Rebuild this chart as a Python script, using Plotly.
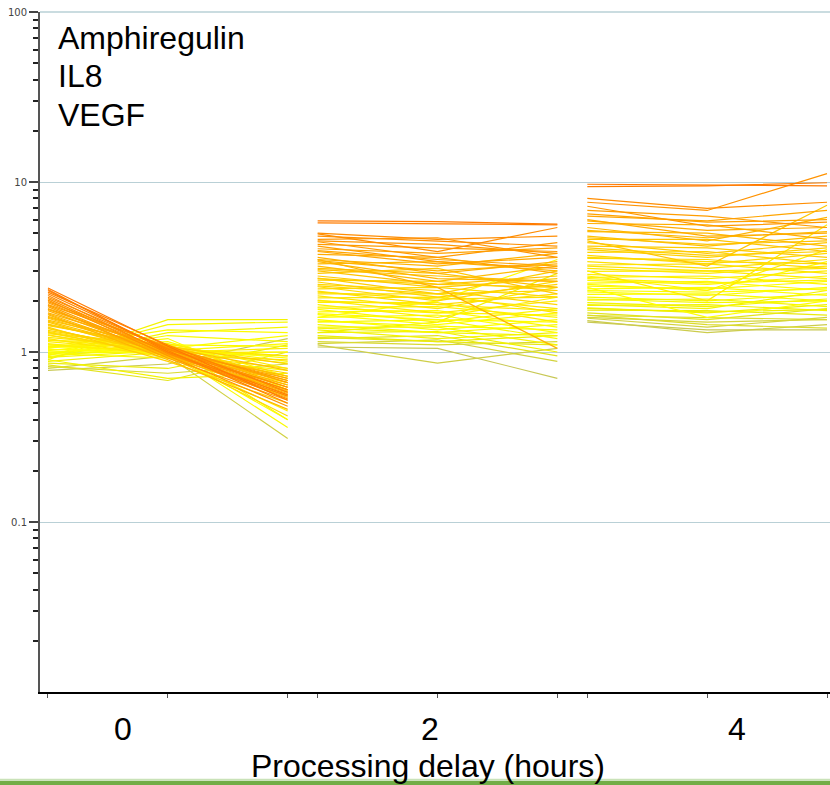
import plotly.graph_objects as go
from plotly.colors import sample_colorscale
import numpy as np

genes = ["Amphiregulin", "IL8", "VEGF"]
delay_labels = ["0", "2", "4"]
axis_title = "Processing delay (hours)"

# ---- delay 0 h : one value per sample for each gene (relative expression) ----
d0_amph = [2.38, 2.30, 2.25, 2.15, 2.10, 2.02, 1.95, 1.90, 1.85, 1.80, 1.75, 1.70, 1.66, 1.62,
           1.58, 1.54, 1.50, 1.46, 1.43, 1.40, 1.37, 1.34, 1.31, 1.28, 1.25, 1.22, 1.20, 1.17,
           1.15, 1.12, 1.10, 1.08, 1.06, 1.04, 1.02, 1.00, 0.98, 0.96, 0.94, 0.92, 0.90, 0.88,
           0.86, 0.84, 0.82, 0.80, 0.78, 0.95, 1.05, 0.90, 1.00, 1.30, 0.97,
           2.33, 2.20, 2.06, 1.98, 1.88, 1.78, 1.68, 1.60, 1.52, 1.45, 1.38, 1.32, 1.26, 1.18,
           1.10, 1.03, 0.99, 0.93]
d0_il8 = [1.08, 1.02, 1.10, 0.98, 1.05, 0.95, 1.00, 1.08, 0.92, 1.02, 0.96, 1.04, 0.90, 1.00,
          0.97, 1.06, 0.94, 1.00, 1.08, 0.88, 0.98, 1.03, 0.95, 1.10, 0.99, 1.05, 0.93, 1.12,
          1.00, 0.96, 1.08, 1.02, 1.15, 0.97, 1.20, 1.05, 0.92, 1.25, 1.10, 1.30, 1.55, 1.00,
          0.80, 0.68, 0.75, 0.95, 0.85, 1.45, 1.35, 0.70, 1.00, 0.95, 1.02,
          1.00, 1.04, 0.99, 1.06, 0.97, 1.01, 0.95, 1.03, 0.98, 1.04, 0.96, 1.01, 0.97, 1.03,
          0.99, 1.06, 1.10, 1.02]
d0_vegf = [0.52, 0.50, 0.58, 0.55, 0.62, 0.48, 0.60, 0.66, 0.52, 0.70, 0.57, 0.64, 0.46, 0.72,
           0.60, 0.78, 0.55, 0.68, 0.85, 0.50, 0.75, 0.62, 0.90, 0.70, 0.58, 0.95, 0.66, 0.80,
           1.05, 0.45, 0.88, 1.12, 0.72, 1.00, 0.60, 1.25, 0.78, 1.15, 0.40, 1.40, 1.55, 0.95,
           1.10, 1.00, 0.85, 0.31, 1.20, 1.50, 1.30, 0.75, 0.40, 0.42, 0.36,
           0.56, 0.60, 0.53, 0.68, 0.58, 0.62, 0.54, 0.66, 0.59, 0.72, 0.64, 0.56, 0.80, 0.68,
           1.00, 0.92, 1.08, 0.86]

# ---- delay 2 h ----
d2_amph = [5.90, 5.75, 4.95, 4.80, 4.60, 4.45, 4.30, 4.20, 4.05, 3.90, 3.75, 3.60, 3.50, 3.40,
           3.30, 3.20, 3.10, 3.00, 2.90, 2.80, 2.72, 2.65, 2.58, 2.50, 2.42, 2.35, 2.28, 2.20,
           2.14, 2.08, 2.02, 1.96, 1.90, 1.84, 1.78, 1.72, 1.66, 1.60, 1.55, 1.50, 1.45, 1.40,
           1.35, 1.30, 1.25, 1.20, 1.15, 1.10, 1.07, 1.12, 3.50, 1.30, 1.60,
           4.50, 3.95, 3.45, 3.05, 2.70, 2.45, 2.25, 2.00, 1.82, 1.68, 1.52, 1.38, 1.22, 5.00]
d2_il8 = [5.85, 5.70, 3.90, 4.50, 4.70, 3.60, 4.10, 3.40, 3.80, 3.30, 3.60, 2.90, 3.20, 2.70,
          3.40, 2.60, 2.90, 2.50, 3.10, 2.40, 2.20, 2.60, 2.10, 2.30, 2.00, 2.40, 1.90, 2.20,
          1.80, 2.10, 1.70, 1.95, 1.60, 1.85, 1.50, 1.75, 1.45, 1.65, 1.35, 1.55, 1.30, 1.40,
          1.20, 1.32, 1.15, 1.25, 1.10, 0.86, 1.05, 1.18, 2.40, 1.50, 2.00,
          4.30, 3.50, 3.00, 2.80, 2.50, 2.20, 2.05, 1.90, 1.70, 1.55, 1.42, 1.30, 1.15, 4.60]
d2_vegf = [5.65, 5.60, 5.40, 4.20, 3.60, 4.40, 3.90, 3.10, 4.10, 3.60, 2.90, 3.40, 3.80, 2.60,
           3.00, 3.20, 2.40, 2.80, 2.20, 2.70, 3.00, 2.30, 2.50, 1.90, 2.60, 2.10, 2.20, 1.70,
           2.40, 1.80, 2.00, 1.50, 2.10, 1.60, 1.80, 1.40, 1.70, 1.30, 1.55, 1.20, 1.45, 1.10,
           1.30, 1.00, 1.25, 0.95, 1.15, 1.05, 0.70, 0.88, 1.05, 2.90, 3.50,
           3.80, 3.20, 3.30, 2.60, 2.40, 2.30, 2.10, 1.75, 1.65, 1.50, 1.35, 1.25, 1.10, 4.80]

# ---- delay 4 h ----
d4_amph = [9.70, 9.40, 8.00, 7.60, 7.20, 6.80, 6.30, 6.00, 5.70, 5.40, 5.10, 4.80, 4.60, 4.40,
           4.20, 4.00, 3.85, 3.70, 3.55, 3.40, 3.25, 3.10, 2.98, 2.86, 2.75, 2.64, 2.54, 2.44,
           2.35, 2.26, 2.18, 2.10, 2.02, 1.95, 1.88, 1.82, 1.76, 1.70, 1.64, 1.58, 1.53, 1.50,
           2.40, 3.00, 4.50, 2.80, 1.65,
           6.50, 5.90, 5.20, 4.70, 4.10, 3.60, 3.20, 2.70, 2.30, 2.05, 1.80, 1.60, 1.90, 2.50]
d4_il8 = [9.60, 9.50, 7.00, 6.80, 5.50, 6.30, 5.90, 4.80, 5.60, 4.50, 5.00, 4.20, 4.60, 3.80,
          4.10, 3.60, 3.90, 3.30, 3.50, 3.10, 3.30, 2.90, 3.00, 2.70, 2.80, 2.50, 2.60, 2.35,
          2.40, 2.15, 2.20, 2.00, 2.05, 1.85, 1.90, 1.70, 1.75, 1.55, 1.60, 1.40, 1.30, 1.35,
          1.60, 2.00, 3.20, 2.30, 1.45,
          5.80, 5.20, 4.70, 4.30, 3.70, 3.40, 3.00, 2.55, 2.25, 1.95, 1.72, 1.50, 1.80, 2.30]
d4_vegf = [9.50, 9.90, 7.60, 11.2, 5.80, 5.40, 6.80, 5.00, 4.60, 6.20, 4.20, 4.80, 3.90, 4.40,
           3.60, 4.10, 3.30, 3.80, 3.10, 3.50, 2.90, 3.20, 2.70, 3.00, 2.50, 2.80, 2.30, 2.60,
           2.15, 2.40, 2.00, 2.20, 1.85, 2.05, 1.75, 1.90, 1.65, 1.80, 1.55, 1.60, 1.45, 1.35,
           2.00, 5.60, 7.30, 4.00, 1.38,
           6.00, 5.40, 5.10, 4.50, 3.90, 3.30, 3.10, 2.65, 2.35, 2.00, 1.78, 1.55, 2.30, 3.40]

groups = [
    (d0_amph, d0_il8, d0_vegf),
    (d2_amph, d2_il8, d2_vegf),
    (d4_amph, d4_il8, d4_vegf),
]

colorscale = [[0.0, "#c8c855"], [0.1, "#f0f000"], [0.25, "#ffff00"],
              [0.6, "#ffc400"], [1.0, "#ff7a00"]]

group_step = 2.25  # each delay block spans 3 gene positions plus a gap
fig = go.Figure()
for g, (a, b, c) in enumerate(groups):
    xs = [g * group_step + k for k in range(len(genes))]
    vals = np.array([a, b, c]).T
    score = np.log10(vals[:, 0])  # colour follows the first gene (Amphiregulin)
    t = (score - score.min()) / (score.max() - score.min())
    cols = sample_colorscale(colorscale, list(t))
    order = np.argsort(t)
    for i in order:
        fig.add_trace(go.Scatter(
            x=xs, y=list(vals[i]), mode="lines",
            line=dict(color=cols[i], width=1.2),
            hoverinfo="skip", showlegend=False,
        ))

major = [0.1, 1, 10, 100]
minor_vals = [k * 10.0 ** e for e in range(-2, 2) for k in range(2, 10)]
xticks = [g * group_step + k for g in range(3) for k in range(3)]

fig.update_layout(
    width=830, height=785,
    margin=dict(l=40, r=0, t=12, b=93),
    plot_bgcolor="white", paper_bgcolor="white",
    font=dict(family="Liberation Sans, Arial, sans-serif", color="black"),
    showlegend=False,
)
fig.update_yaxes(
    type="log", range=[-2, 2],
    tickvals=major, ticktext=["0.1", "1", "10", "100"],
    tickfont=dict(family="DejaVu Sans", size=10, color="#444"),
    ticks="outside", ticklen=9, tickcolor="#444", tickwidth=1.5,
    showgrid=True, gridcolor="#b9d0d6", gridwidth=1,
    showline=True, linecolor="#555", linewidth=2,
    zeroline=False,
    minor=dict(tickvals=minor_vals, ticks="outside", ticklen=5,
               tickcolor="#222", tickwidth=1.5, showgrid=False),
)
fig.update_xaxes(
    range=[-0.0667, 6.525],
    tickvals=xticks, ticks="outside", ticklen=4, tickcolor="#555", tickwidth=1,
    showticklabels=False, showgrid=False, zeroline=False,
    showline=True, linecolor="black", linewidth=1.5,
)

# grid line at the top (100) which sits on the plot edge
fig.add_shape(type="line", xref="paper", yref="paper", x0=0, x1=1, y0=1, y1=1,
              line=dict(color="#b9d0d6", width=1.5), layer="below")

# gene names legend text (upper left)
for i, name in enumerate(genes):
    fig.add_annotation(text=name, xref="paper", yref="paper",
                       x=0.0205, y=0.962 - i * 0.0565, xanchor="left", yanchor="middle",
                       showarrow=False, font=dict(size=32, color="black"))

# delay labels under each block
for xp, lab in zip([0.105, 0.494, 0.882], delay_labels):
    fig.add_annotation(text=lab, xref="paper", yref="paper", x=xp, y=-0.054,
                       xanchor="center", yanchor="middle", showarrow=False,
                       font=dict(size=32, color="black"))

fig.add_annotation(text=axis_title, xref="paper", yref="paper", x=0.491, y=-0.109,
                   xanchor="center", yanchor="middle", showarrow=False,
                   font=dict(size=32, color="black"))

# green rule at the very bottom of the slide
fig.add_shape(type="rect", xref="paper", yref="paper", x0=-0.06, x1=1.0,
              y0=-0.1375, y1=-0.1305, fillcolor="#72ad47", line=dict(width=0), layer="above")
fig.add_shape(type="rect", xref="paper", yref="paper", x0=-0.06, x1=1.0,
              y0=-0.1305, y1=-0.1275, fillcolor="#c9e2b8", line=dict(width=0), layer="above")

fig.write_html("out.html", config={"displayModeBar": False},
               post_script="document.body.style.margin='0';")
